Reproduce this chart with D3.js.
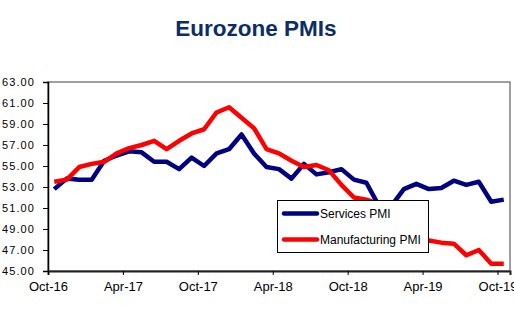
<!DOCTYPE html>
<html>
<head>
<meta charset="utf-8">
<script src="https://cdn.jsdelivr.net/npm/d3@7"></script>
<style>
  body { margin: 0; background: #fff; }
  svg { display: block; font-family: "Liberation Sans", Arial, sans-serif; }
</style>
</head>
<body>
<div id="chart"></div>
<script>
'use strict';

// monthly readings, Oct-16 .. Oct-19
var months = ["Oct-16","Nov-16","Dec-16","Jan-17","Feb-17","Mar-17","Apr-17","May-17","Jun-17",
  "Jul-17","Aug-17","Sep-17","Oct-17","Nov-17","Dec-17","Jan-18","Feb-18","Mar-18","Apr-18",
  "May-18","Jun-18","Jul-18","Aug-18","Sep-18","Oct-18","Nov-18","Dec-18","Jan-19","Feb-19",
  "Mar-19","Apr-19","May-19","Jun-19","Jul-19","Aug-19","Sep-19","Oct-19"];

var services = [52.8, 53.8, 53.7, 53.7, 55.5, 56.0, 56.4, 56.3, 55.4, 55.4, 54.7, 55.8, 55.0,
  56.2, 56.6, 58.0, 56.2, 54.9, 54.7, 53.8, 55.2, 54.2, 54.4, 54.7, 53.7, 53.4, 51.2, 51.2,
  52.8, 53.3, 52.8, 52.9, 53.6, 53.2, 53.5, 51.6, 51.8];

var manufacturing = [53.5, 53.7, 54.9, 55.2, 55.4, 56.2, 56.7, 57.0, 57.4, 56.6, 57.4, 58.1,
  58.5, 60.1, 60.6, 59.6, 58.6, 56.6, 56.2, 55.5, 54.9, 55.1, 54.6, 53.2, 52.0, 51.8, 51.4,
  50.5, 49.3, 47.5, 47.9, 47.7, 47.6, 46.5, 47.0, 45.7, 45.7];

var tickMonths = ["Oct-16", "Apr-17", "Oct-17", "Apr-18", "Oct-18", "Apr-19", "Oct-19"];
var yTicks = [45, 47, 49, 51, 53, 55, 57, 59, 61, 63];

var series = [
  { name: "Services PMI", values: services, color: "#000080" },
  { name: "Manufacturing PMI", values: manufacturing, color: "#ff0000" }
];

var W = 514, H = 322;
var m = { left: 48, top: 82, right: 510, bottom: 271 };

var svg = d3.select("#chart").append("svg")
  .attr("width", W)
  .attr("height", H);

// title
svg.append("text")
  .attr("x", 256)
  .attr("y", 36)
  .attr("text-anchor", "middle")
  .attr("font-size", 22.5)
  .attr("font-weight", "bold")
  .attr("fill", "#0b2e64")
  .text("Eurozone PMIs");

// months sit in the middle of each monthly slot
var x = d3.scaleLinear().domain([0, months.length]).range([m.left, m.right]);
var y = d3.scaleLinear().domain([45, 63]).range([m.bottom, m.top]);

// plot frame
svg.append("rect")
  .attr("x", m.left)
  .attr("y", m.top)
  .attr("width", m.right - m.left)
  .attr("height", m.bottom - m.top)
  .attr("fill", "none")
  .attr("stroke", "#808080")
  .attr("stroke-width", 1.5);

var yAxis = svg.append("g")
  .attr("transform", "translate(" + m.left + ",0)")
  .call(d3.axisLeft(y).tickValues(yTicks).tickFormat(d3.format(".2f")).tickSize(5).tickPadding(8));

var xAxis = svg.append("g")
  .attr("transform", "translate(0," + m.bottom + ")")
  .call(d3.axisBottom(x)
    .tickValues(tickMonths.map(function(t) { return months.indexOf(t); }))
    .tickFormat(function(i) { return months[i]; })
    .tickSize(4).tickPadding(7));

yAxis.select(".domain").attr("stroke", "#000").attr("stroke-width", 1.5);
xAxis.select(".domain").attr("stroke", "#222").attr("stroke-width", 2);
yAxis.selectAll(".tick line").attr("stroke", "#000");
xAxis.selectAll(".tick line").attr("stroke", "#000");
yAxis.selectAll("text")
  .attr("font-size", 11)
  .attr("letter-spacing", "1.1px")
  .attr("fill", "#000")
  .attr("font-family", "\"Liberation Sans\", Arial, sans-serif");
xAxis.selectAll("text")
  .attr("font-size", 13)
  .attr("fill", "#000")
  .attr("font-family", "\"Liberation Sans\", Arial, sans-serif");

var line = d3.line()
  .x(function(d, i) { return x(i + 0.5); })
  .y(function(d) { return y(d); });

svg.append("g").selectAll("path")
  .data(series)
  .enter().append("path")
  .attr("d", function(d) { return line(d.values); })
  .attr("fill", "none")
  .attr("stroke", function(d) { return d.color; })
  .attr("stroke-width", 4.5)
  .attr("stroke-linejoin", "round");

// legend
var lg = svg.append("g").attr("transform", "translate(277,200)");
lg.append("rect")
  .attr("x", 0.5).attr("y", 0.5)
  .attr("width", 151).attr("height", 52)
  .attr("fill", "#fff")
  .attr("stroke", "#000");

var item = lg.selectAll(".item")
  .data(series)
  .enter().append("g")
  .attr("class", "item")
  .attr("transform", function(d, i) { return "translate(0," + (13.5 + i * 26) + ")"; });

item.append("line")
  .attr("x1", 7).attr("x2", 40)
  .attr("stroke", function(d) { return d.color; })
  .attr("stroke-width", 4.5)
  .attr("stroke-linecap", "round");

item.append("text")
  .attr("x", 43)
  .attr("y", 4)
  .attr("font-size", 12)
  .attr("fill", "#000")
  .text(function(d) { return d.name; });
</script>
</body>
</html>
